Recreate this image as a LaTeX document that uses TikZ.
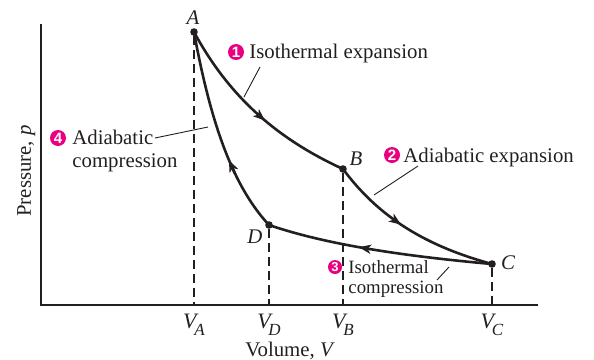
\documentclass[tikz,border=0pt]{standalone}
\usepackage{fontspec}
\setmainfont{Liberation Serif}
\setsansfont{Liberation Sans}
\usetikzlibrary{arrows.meta}
\definecolor{inkgray}{RGB}{35,31,32}
\definecolor{stepmagenta}{RGB}{232,0,128}
\newcommand{\volsub}[1]{\textit{V}\kern-2.2pt\raisebox{-3.5pt}{\fontsize{8.5}{9}\selectfont\textit{#1}}}

\begin{document}
\begin{tikzpicture}[x=0.5pt,y=-0.5pt]

\tikzset{
  axisline/.style={
    inkgray,
    line width=0.9pt
  },
  cycleline/.style={
    inkgray,
    line width=1.3pt
  },
  cyclearrow/.style={
    inkgray,
    line width=1.3pt,
    -{Stealth[length=6pt,width=4.6pt,inset=1.6pt]}
  },
  dropline/.style={
    inkgray,
    line width=0.6pt,
    dash pattern=on 4.5pt off 2.5pt
  },
  leader/.style={
    inkgray,
    line width=0.45pt
  },
  statepoint/.style={
    circle,
    fill=inkgray,
    inner sep=0pt,
    minimum size=3.8pt
  },
  statelabel/.style={
    inkgray,
    inner sep=0pt,
    font=\fontsize{10.4}{12}\selectfont\itshape
  },
  axistitle/.style={
    inkgray,
    inner sep=0pt,
    anchor=base,
    font=\fontsize{10.4}{12}\selectfont
  },
  ticklabel/.style={
    inkgray,
    inner sep=0pt,
    anchor=base,
    font=\fontsize{11}{12}\selectfont
  },
  stepbadge/.style={
    circle,
    fill=stepmagenta,
    text=white,
    inner sep=0pt,
    minimum size=8pt,
    font=\sffamily\bfseries\fontsize{7.5}{7.5}\selectfont
  },
  steptext/.style={
    inkgray,
    inner sep=0pt,
    align=left,
    anchor=base west,
    font=\fontsize{10.4}{11.2}\selectfont
  }
}

% Picture frame (594 x 359 px)
\useasboundingbox (0,0) rectangle (594,359);

%%%%%%%%%%%%%%%%%%%%%%%%%%%%%%%%%%%%%%%%%%%%%%%%%%%%%%%%%%%%
%% Axes
%%%%%%%%%%%%%%%%%%%%%%%%%%%%%%%%%%%%%%%%%%%%%%%%%%%%%%%%%%%%
\coordinate (ytop) at (41,24);
\coordinate (origin) at (41,305);
\coordinate (xend) at (538,305);

\draw[axisline] (ytop) -- (origin) -- (xend);

\node[axistitle] (vtitle) at (290,356) {Volume, \textit{V}};
\node[axistitle, rotate=90] (ptitle) at (31,171) {Pressure, \textit{p}};

%%%%%%%%%%%%%%%%%%%%%%%%%%%%%%%%%%%%%%%%%%%%%%%%%%%%%%%%%%%%
%% States A, B, C, D
%%%%%%%%%%%%%%%%%%%%%%%%%%%%%%%%%%%%%%%%%%%%%%%%%%%%%%%%%%%%
\node[statepoint] (A) at (194,32) {};
\node[statepoint] (B) at (343,169) {};
\node[statepoint] (C) at (492,264) {};
\node[statepoint] (D) at (269,225) {};

% Dashed drops to the volume axis
\foreach \P in {A,B,C,D}{
  \draw[dropline] (\P) -- (\P |- origin);
}

% Volume ticks
\node[ticklabel] (VA) at (194,328) {\volsub{A}};
\node[ticklabel] (VD) at (269,328) {\volsub{D}};
\node[ticklabel] (VB) at (343,328) {\volsub{B}};
\node[ticklabel] (VC) at (492,328) {\volsub{C}};

% State letters
\node[statelabel] (Alabel) at (193,18) {A};
\node[statelabel] (Blabel) at (356,159) {B};
\node[statelabel] (Clabel) at (508,263) {C};
\node[statelabel] (Dlabel) at (255,237) {D};

%%%%%%%%%%%%%%%%%%%%%%%%%%%%%%%%%%%%%%%%%%%%%%%%%%%%%%%%%%%%
%% The cycle
%%%%%%%%%%%%%%%%%%%%%%%%%%%%%%%%%%%%%%%%%%%%%%%%%%%%%%%%%%%%
% 1: isothermal expansion A -> B
\draw[cycleline]
  plot[domain=194:343, samples=60, smooth]
  (\x,{305-403.77/((\x-46.1)/100)});

% 2: adiabatic expansion B -> C
\draw[cycleline]
  plot[domain=343:492, samples=60, smooth]
  (\x,{305-136*pow(302/(\x-41),2.99)});

% 3: isothermal compression C -> D
\draw[cycleline]
  plot[domain=269:492, samples=60, smooth]
  (\x,{305-187.55/((\x-34.56)/100)});

% 4: adiabatic compression D -> A
\draw[cycleline]
  plot[domain=194:269, samples=80, smooth]
  (\x,{305-80*pow(228/(\x-41),3.077)});

% Direction arrows, on the curves
\coordinate (arr1a) at (258,114.5);
\coordinate (arr1b) at (265,120.55);
\coordinate (arr2a) at (395,220.4);
\coordinate (arr2b) at (401,224.6);
\coordinate (arr3a) at (367,248.58);
\coordinate (arr3b) at (359,247.19);
\coordinate (arr4a) at (235.2,174);
\coordinate (arr4b) at (228.9,160);

\foreach \n in {1,2,3,4}{
  \draw[cyclearrow] (arr\n a) -- (arr\n b);
}

%%%%%%%%%%%%%%%%%%%%%%%%%%%%%%%%%%%%%%%%%%%%%%%%%%%%%%%%%%%%
%% Step labels
%%%%%%%%%%%%%%%%%%%%%%%%%%%%%%%%%%%%%%%%%%%%%%%%%%%%%%%%%%%%
\node[stepbadge] (s1) at (236,52) {1};
\node[steptext] (t1) at (249,58) {Isothermal expansion};

\node[stepbadge] (s2) at (392,155) {2};
\node[steptext] (t2) at (403,162) {Adiabatic expansion};

\node[stepbadge, minimum size=7pt, font=\sffamily\bfseries\fontsize{6.5}{6.5}\selectfont]
  (s3) at (335,267) {3};
% base of a two-line node is its last line
\node[steptext, font=\fontsize{9.4}{9.7}\selectfont] (t3) at (348,293)
  {Isothermal\\compression};

\node[stepbadge] (s4) at (58,138) {4};
\node[steptext] (t4) at (72,167) {Adiabatic\\compression};

% Leader lines
\coordinate (lead1a) at (260,67);
\coordinate (lead1b) at (244,97);
\coordinate (lead2a) at (418,166);
\coordinate (lead2b) at (374,195);
\coordinate (lead3a) at (449,267);
\coordinate (lead3b) at (437,280);
\coordinate (lead4a) at (155,138);
\coordinate (lead4b) at (208,127);

\draw[leader] (lead1a) -- (lead1b);
\draw[leader] (lead2a) -- (lead2b);
\draw[leader] (lead3a) -- (lead3b);
\draw[leader] (lead4a) -- (lead4b);

\end{tikzpicture}
\end{document}
